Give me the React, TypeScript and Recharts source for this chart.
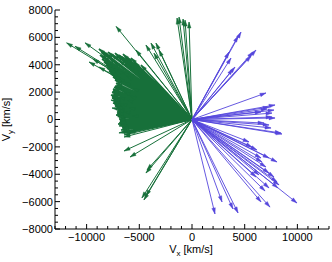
import React from 'react';
import { LineChart, Line, XAxis, YAxis } from 'recharts';

// Arrow tip velocities (km/s): separate green arrows (Vx < 0)
const greenVx = [
  -11900, -11100, -10150, -9770, -9400, -8830, -7200, -5310, -4370, -3890, -3420, -3130, -3610,
  -1420, -1230, -850, -280, -660,
  -6450, -5880, -4370, -4270, -4560, -4370, -4750,
  -6450, -6930, -7590, -7690, -6930, -6450, -5980,
];
const greenVy = [
  5600, 5350, 5600, 4200, 4420, 3830, 6800, 5070, 5440, 5580, 5580, 5070, 4850,
  7410, 7480, 7340, 7120, 7260,
  -2300, -2740, -3910, -3690, -5880, -5580, -5730,
  -1130, -470, 840, 1420, -980, -1280, -980,
];

// Arrow tip velocities (km/s): dense green bundle
const greenBlobVx = [
  -8830, -8540, -8260, -7970, -7690, -7310, -6930, -6550, -6170, -5790,
  -8730, -8540, -8350, -8160, -8070, -7880, -7690, -7500, -7310, -7210,
  -7310, -7500, -7590, -7690, -7590, -7400, -7500, -7310, -7020, -7120,
  -7210, -6930, -6830, -7020, -6640, -6740, -6450,
  -7880, -7400, -6930, -6360, -7590, -7120, -6550, -5980, -6930, -6360,
  -7020, -6450, -6930, -6170, -6740, -5980, -6450, -5690, -5220, -5500,
  -4840, -6170, -5600, -5880,
  -8600, -8100, -7500, -7100, -6700, -6300, -8450, -8250, -8100, -7950,
  -7800, -7600, -7400, -7250, -7200, -7400, -7500, -7550, -7600, -7450,
  -7400, -7350, -7150, -7050, -7100, -7050, -6900, -6900, -6800, -6600, -6500,
];
const greenBlobVy = [
  5150, 5000, 4850, 4930, 4780, 4850, 4710, 4780, 4560, 4490,
  4710, 4420, 4200, 3980, 3760, 3540, 3320, 3100, 2880, 2660,
  2450, 2230, 2010, 1790, 1570, 1420, 1200, 990, 770, 550,
  330, 110, -110, -330, -550, -770, -990,
  4490, 4200, 4340, 4120, 3760, 3610, 3470, 3910, 3030, 2740,
  2300, 2010, 1640, 1420, 1130, 840, 550, 260, 3610, 4200,
  3980, 3180, 2300, 1720,
  4900, 4750, 4700, 4650, 4600, 4450, 4600, 4300, 4100, 3850,
  3650, 3420, 3200, 2980, 2550, 2350, 2100, 1900, 1680, 1500,
  1300, 1100, 880, 660, 440, 220, 0, -220, -440, -660, -880,
];

// Arrow tip velocities (km/s): blue arrows (Vx > 0)
const blueVx = [
  4650, 4370, 3510, 3700, 6070, 5790, 5600, 4080, 3890,
  7020, 7310, 7780, 7590, 7880, 7310, 7500, 8450, 7120, 7590, 6830, 7880, 6550,
  5410, 6170, 7310, 8070, 6640, 7020, 6070, 6360, 7310, 8260, 9960, 7310, 7400, 6550,
  4370, 3890, 2850, 2180, 8540, 6930, 8160, 5690, 6550, 7780, 8070,
];
const blueVy = [
  6390, 6100, 4930, 4490, 5070, 4930, 4640, 3830, 3690,
  1940, 910, 690, 470, 110, -400, -620, -990, 770, 180, -260, 1060, 550,
  -1640, -2230, -2810, -3100, -3100, -3470, -4200, -4050, -3910, -4780, -6100, -5000, -6400, -6020,
  -6830, -6530, -6020, -6900, -1060, -5220, -5000, -2010, -2810, -4200, -4560,
];

const xTicks = [
  -13000, -12000, -11000, -10000, -9000, -8000, -7000, -6000, -5000, -4000, -3000, -2000, -1000,
  0, 1000, 2000, 3000, 4000, 5000, 6000, 7000, 8000, 9000, 10000, 11000, 12000, 13000,
];
const xLabelTicks = [-10000, -5000, 0, 5000, 10000];
const yTicks = [
  -8000, -7500, -7000, -6500, -6000, -5500, -5000, -4500, -4000, -3500, -3000, -2500, -2000, -1500, -1000, -500,
  0, 500, 1000, 1500, 2000, 2500, 3000, 3500, 4000, 4500, 5000, 5500, 6000, 6500, 7000, 7500, 8000,
];
const yLabelTicks = [-8000, -6000, -4000, -2000, 0, 2000, 4000, 6000, 8000];

const GREEN = '#17703a';
const BLUE = '#5546dc';
const FONT = '"Liberation Sans", Arial, Helvetica, sans-serif';

function buildSegments(vx: number[], vy: number[]) {
  const out: { x: number; y: number | null; tip: boolean }[] = [];
  vx.forEach((x, i) => {
    out.push({ x: 0, y: 0, tip: false });
    out.push({ x, y: vy[i], tip: true });
    out.push({ x, y: null, tip: false });
  });
  return out;
}

const greenData = buildSegments(greenVx, greenVy);
const greenBlobData = buildSegments(greenBlobVx, greenBlobVy);
const blueData = buildSegments(blueVx, blueVy);

const fmt = (v: number) => (v < 0 ? '\u2212' + Math.abs(v) : String(v));

const makeHead = (color: string) => (props: any) => {
  const { cx, cy, index, points, payload } = props;
  const k = `h-${index}`;
  if (!payload || !payload.tip || cx == null || cy == null || !points || !points[index - 1]) {
    return <g key={k} />;
  }
  const o = points[index - 1];
  const dx = cx - o.x;
  const dy = cy - o.y;
  const len = Math.hypot(dx, dy) || 1;
  const ux = dx / len;
  const uy = dy / len;
  const L = 6;
  const W = 1.8;
  const bx = cx - ux * L;
  const by = cy - uy * L;
  const p = `${cx},${cy} ${bx - uy * W},${by + ux * W} ${bx + uy * W},${by - ux * W}`;
  return <polygon key={k} points={p} fill={color} stroke={color} strokeWidth={0.4} />;
};

const BottomTick = (props: any) => {
  const { x, y, payload } = props;
  const v = payload.value;
  const major = xLabelTicks.includes(v);
  return (
    <g>
      <line x1={x} x2={x} y1={y} y2={y - (major ? 5 : 3)} stroke="#000" strokeWidth={1} />
      {major && (
        <text x={x} y={y + 12} textAnchor="middle" fontSize={11} fontFamily={FONT} fill="#000">
          {fmt(v)}
        </text>
      )}
    </g>
  );
};

const TopTick = (props: any) => {
  const { x, y, payload } = props;
  const major = xLabelTicks.includes(payload.value);
  return <line x1={x} x2={x} y1={y} y2={y + (major ? 5 : 3)} stroke="#000" strokeWidth={1} />;
};

const LeftTick = (props: any) => {
  const { x, y, payload } = props;
  const v = payload.value;
  const major = yLabelTicks.includes(v);
  return (
    <g>
      <line x1={x} x2={x + (major ? 5 : 3)} y1={y} y2={y} stroke="#000" strokeWidth={1} />
      {major && (
        <text x={x - 2} y={y} dy="0.36em" textAnchor="end" fontSize={11} fontFamily={FONT} fill="#000">
          {fmt(v)}
        </text>
      )}
    </g>
  );
};

const RightTick = (props: any) => {
  const { x, y, payload } = props;
  const major = yLabelTicks.includes(payload.value);
  return <line x1={x} x2={x - (major ? 5 : 3)} y1={y} y2={y} stroke="#000" strokeWidth={1} />;
};

const XTitle = (props: any) => {
  const vb = props.viewBox || { x: 55, y: 229, width: 274, height: 33 };
  return (
    <text x={vb.x + vb.width / 2 - 1} y={vb.y + 23.5} textAnchor="middle" fontSize={11} fontFamily={FONT} fill="#000">
      V
      <tspan fontSize={8} dy={3}>x</tspan>
      <tspan dy={-3}> [km/s]</tspan>
    </text>
  );
};

const YTitle = (props: any) => {
  const vb = props.viewBox || { x: 0, y: 10, width: 55, height: 219 };
  const cx = 10;
  const cy = vb.y + vb.height / 2;
  return (
    <text
      x={cx}
      y={cy}
      transform={`rotate(-90, ${cx}, ${cy})`}
      textAnchor="middle"
      fontSize={11}
      fontFamily={FONT}
      fill="#000"
    >
      V
      <tspan fontSize={8} dy={3}>y</tspan>
      <tspan dy={-3}> [km/s]</tspan>
    </text>
  );
};

export default function App() {
  return (
    <div style={{ position: 'absolute', left: 0, top: 0, background: '#fff' }}>
      <LineChart width={332} height={262} margin={{ top: 10, right: 3, bottom: 0, left: 0 }}>
        <XAxis
          xAxisId={0}
          dataKey="x"
          type="number"
          domain={[-13000, 13000]}
          ticks={xTicks}
          interval={0}
          allowDataOverflow
          height={33}
          tickSize={0}
          tickMargin={0}
          tickLine={false}
          axisLine={{ stroke: '#000', strokeWidth: 1 }}
          tick={BottomTick}
          label={XTitle}
        />
        <XAxis
          xAxisId="top"
          orientation="top"
          type="number"
          domain={[-13000, 13000]}
          ticks={xTicks}
          interval={0}
          allowDataOverflow
          height={0}
          tickSize={0}
          tickMargin={0}
          tickLine={false}
          axisLine={{ stroke: '#000', strokeWidth: 1 }}
          tick={TopTick}
        />
        <YAxis
          yAxisId={0}
          type="number"
          domain={[-8000, 8000]}
          ticks={yTicks}
          interval={0}
          allowDataOverflow
          width={55}
          tickSize={0}
          tickMargin={0}
          tickLine={false}
          axisLine={{ stroke: '#000', strokeWidth: 1 }}
          tick={LeftTick}
          label={YTitle}
        />
        <YAxis
          yAxisId="right"
          orientation="right"
          type="number"
          domain={[-8000, 8000]}
          ticks={yTicks}
          interval={0}
          allowDataOverflow
          width={0}
          tickSize={0}
          tickMargin={0}
          tickLine={false}
          axisLine={{ stroke: '#000', strokeWidth: 1 }}
          tick={RightTick}
        />
        <Line
          data={greenBlobData}
          dataKey="y"
          stroke={GREEN}
          strokeWidth={1.6}
          dot={makeHead(GREEN)}
          activeDot={false}
          connectNulls={false}
          isAnimationActive={false}
        />
        <Line
          data={greenData}
          dataKey="y"
          stroke={GREEN}
          strokeWidth={1}
          dot={makeHead(GREEN)}
          activeDot={false}
          connectNulls={false}
          isAnimationActive={false}
        />
        <Line
          data={blueData}
          dataKey="y"
          stroke={BLUE}
          strokeWidth={0.9}
          dot={makeHead(BLUE)}
          activeDot={false}
          connectNulls={false}
          isAnimationActive={false}
        />
      </LineChart>
    </div>
  );
}
